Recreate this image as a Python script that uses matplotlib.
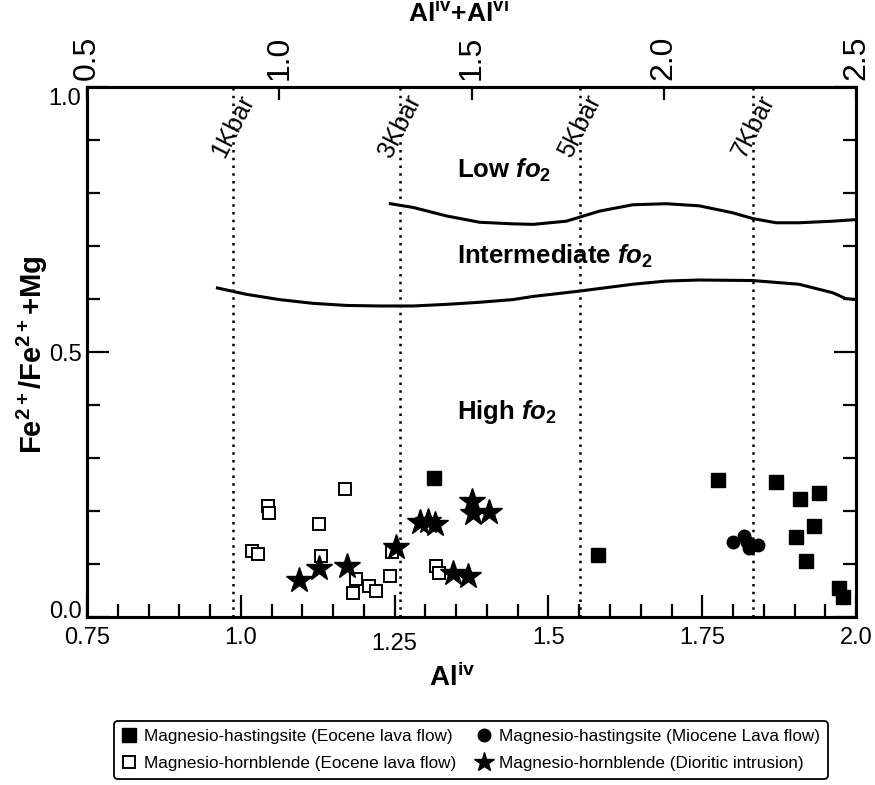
import matplotlib
matplotlib.use("Agg")
import matplotlib.pyplot as plt
from matplotlib.lines import Line2D
from matplotlib.ticker import FixedLocator, MultipleLocator
from matplotlib.transforms import ScaledTranslation

plt.rcParams["font.family"] = ["Liberation Sans", "DejaVu Sans"]
plt.rcParams["mathtext.fontset"] = "custom"
plt.rcParams["mathtext.rm"] = "Liberation Sans:bold"
plt.rcParams["mathtext.bf"] = "Liberation Sans:bold"
plt.rcParams["mathtext.it"] = "Liberation Sans:italic:bold"

# Magnesio-hastingsite (Eocene lava flow)
mh_eocene_x = [1.314, 1.580, 1.775, 1.870, 1.909, 1.939, 1.932, 1.902, 1.919, 1.972, 1.979]
mh_eocene_y = [0.263, 0.117, 0.258, 0.254, 0.222, 0.234, 0.172, 0.151, 0.105, 0.054, 0.038]

# Magnesio-hastingsite (Miocene lava flow)
mh_miocene_x = [1.800, 1.818, 1.823, 1.826, 1.840]
mh_miocene_y = [0.142, 0.153, 0.142, 0.130, 0.135]

# Magnesio-hornblende (Eocene lava flow)
mhb_eocene_x = [1.044, 1.046, 1.169, 1.127, 1.019, 1.028, 1.131, 1.188,
                1.182, 1.208, 1.219, 1.242, 1.246, 1.318, 1.322]
mhb_eocene_y = [0.210, 0.196, 0.242, 0.175, 0.125, 0.119, 0.115, 0.071,
                0.045, 0.059, 0.050, 0.078, 0.122, 0.096, 0.083]

# Magnesio-hornblende (Dioritic intrusion)
mhb_dior_x = [1.095, 1.127, 1.173, 1.252, 1.291, 1.304, 1.315, 1.375, 1.378, 1.403, 1.345, 1.369]
mhb_dior_y = [0.070, 0.092, 0.097, 0.133, 0.180, 0.182, 0.176, 0.218, 0.196, 0.199, 0.083, 0.078]

# pressure lines (Al-in-hornblende barometer)
kbar_x = [0.9875, 1.259, 1.551, 1.833]
kbar_labels = ["1Kbar", "3Kbar", "5Kbar", "7Kbar"]

# oxygen fugacity boundaries
low_int_x = [1.243, 1.280, 1.334, 1.388, 1.442, 1.475, 1.529, 1.583, 1.637,
             1.691, 1.745, 1.799, 1.832, 1.870, 1.907, 1.962, 2.0]
low_int_y = [0.780, 0.773, 0.757, 0.745, 0.742, 0.741, 0.747, 0.766, 0.778,
             0.780, 0.776, 0.763, 0.752, 0.744, 0.744, 0.747, 0.750]
int_high_x = [0.962, 1.009, 1.063, 1.117, 1.172, 1.226, 1.280, 1.334, 1.388, 1.442,
              1.475, 1.550, 1.637, 1.691, 1.745, 1.832, 1.907, 1.962, 1.983, 2.0]
int_high_y = [0.621, 0.609, 0.599, 0.592, 0.588, 0.587, 0.587, 0.590, 0.594, 0.599,
              0.605, 0.615, 0.628, 0.634, 0.636, 0.635, 0.628, 0.612, 0.601, 0.599]

region_labels = [r"Low $\mathit{fo}_{\mathbf{2}}$",
                 r"Intermediate $\mathit{fo}_{\mathbf{2}}$",
                 r"High $\mathit{fo}_{\mathbf{2}}$"]
region_y = [0.843, 0.681, 0.386]
region_x = 1.351

bottom_ticks = [0.75, 1.0, 1.25, 1.5, 1.75, 2.0]
bottom_labels = ["0.75", "1.0", "1.25", "1.5", "1.75", "2.0"]
top_ticks = [0.5, 1.0, 1.5, 2.0, 2.5]
top_labels = ["0.5", "1.0", "1.5", "2.0", "2.5"]
left_ticks = [0.0, 0.5, 1.0]
left_labels = ["0.0", "0.5", "1.0"]

legend_labels = [
    "Magnesio-hastingsite (Eocene lava flow)",
    "Magnesio-hornblende (Eocene lava flow)",
    "Magnesio-hastingsite (Miocene Lava flow)",
    "Magnesio-hornblende (Dioritic intrusion)",
]


def nudge(label, dy_px, fig):
    label.set_transform(label.get_transform()
                        + ScaledTranslation(0, dy_px / 100, fig.dpi_scale_trans))


fig = plt.figure(figsize=(8.75, 7.85), dpi=100)
ax = fig.add_axes([0.0994, 0.214, 0.879, 0.675])
ax.set_xlim(0.75, 2.0)
ax.set_ylim(0.0, 1.0)

for x in kbar_x:
    ax.axvline(x, color="black", lw=1.8, linestyle=(0, (1, 2.1)), zorder=1)
for x, lab in zip(kbar_x, kbar_labels):
    ax.text(x, 0.926, lab, rotation=63, rotation_mode="anchor", ha="center", va="center",
            fontsize=18)

ax.plot(low_int_x, low_int_y, color="black", lw=2.2, zorder=2)
ax.plot(int_high_x, int_high_y, color="black", lw=2.2, zorder=2)
for lab, y in zip(region_labels, region_y):
    ax.text(region_x, y, lab, ha="left", va="center", fontsize=18.5, fontweight="bold")

ax.plot(mhb_eocene_x, mhb_eocene_y, "s", ms=8.5, mfc="white", mec="black", mew=1.4, zorder=3)
ax.plot(mh_eocene_x, mh_eocene_y, "s", ms=9.5, mfc="black", mec="black", zorder=3)
ax.plot(mh_miocene_x, mh_miocene_y, "o", ms=9, mfc="black", mec="black", zorder=3)
ax.plot(mhb_dior_x, mhb_dior_y, "*", ms=19, mfc="black", mec="black", zorder=4)

for sp in ax.spines.values():
    sp.set_linewidth(2.2)

ax.xaxis.set_major_locator(FixedLocator(bottom_ticks))
ax.xaxis.set_minor_locator(MultipleLocator(0.05))
ax.set_xticklabels(bottom_labels)
ax.yaxis.set_major_locator(FixedLocator(left_ticks))
ax.yaxis.set_minor_locator(MultipleLocator(0.1))
ax.set_yticklabels(left_labels)
ax.tick_params(which="both", direction="in", width=1.6, right=True, top=False, labelsize=17)
ax.tick_params(which="major", length=16)
ax.tick_params(which="minor", length=9.5)
ax.tick_params(axis="x", pad=7)
ax.tick_params(axis="y", pad=4)

# the original has 1.25 a little lower and the end labels of y pulled inside
nudge(ax.get_xticklabels()[2], -6, fig)
nudge(ax.get_yticklabels()[0], 8, fig)
nudge(ax.get_yticklabels()[2], -9, fig)

ax2 = ax.twiny()
ax2.set_xlim(0.5, 2.5)
ax2.set_xticks(top_ticks)
ax2.set_xticklabels(top_labels, rotation=90)
ax2.tick_params(direction="in", length=9.5, width=1.6, labelsize=23, pad=5)
for sp in ax2.spines.values():
    sp.set_linewidth(2.2)

fig.text(452 / 875, 1 - 678 / 785, r"Al$^{\mathrm{iv}}$", ha="center", va="center",
         fontsize=20, fontweight="bold")
fig.text(458 / 875, 1 - 13 / 785, r"Al$^{\mathrm{iv}}$+Al$^{\mathrm{vi}}$", ha="center",
         va="center", fontsize=19, fontweight="bold")
fig.text(32 / 875, 1 - 355 / 785, r"Fe$^{2+}$/Fe$^{2+}$+Mg", ha="center", va="center",
         rotation=90, fontsize=21, fontweight="bold")

handles = [
    Line2D([], [], ls="none", marker="s", ms=9.5, mfc="black", mec="black"),
    Line2D([], [], ls="none", marker="s", ms=8.5, mfc="white", mec="black", mew=1.4),
    Line2D([], [], ls="none", marker="o", ms=9, mfc="black", mec="black"),
    Line2D([], [], ls="none", marker="*", ms=15, mfc="black", mec="black"),
]
leg = fig.legend(handles, legend_labels, ncol=2, loc="center",
                 bbox_to_anchor=(471 / 875, 1 - 750 / 785), fontsize=12.3,
                 frameon=True, fancybox=True, edgecolor="black", framealpha=1,
                 handlelength=0.8, handletextpad=0.5, columnspacing=1.2,
                 borderpad=0.45, labelspacing=0.7)
leg.get_frame().set_linewidth(1.3)

fig.savefig("out.png", dpi=100)
